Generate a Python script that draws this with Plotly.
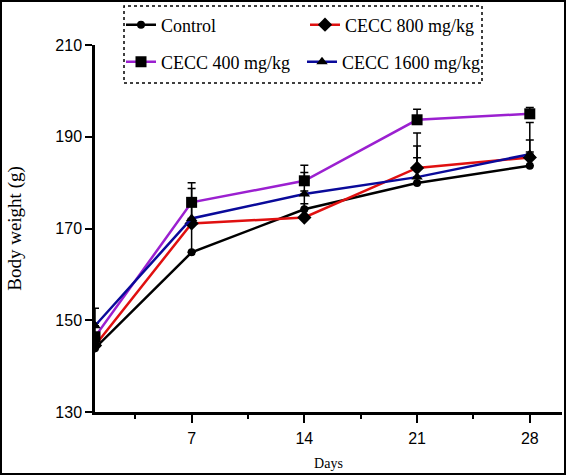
import plotly.graph_objects as go

days = [1, 7, 14, 21, 28]
series_names = ["Control", "CECC 800 mg/kg", "CECC 400 mg/kg", "CECC 1600 mg/kg"]
control = [143.9, 164.8, 174.2, 179.9, 183.7]
control_err = [2.0, 6.0, 4.0, 5.5, 3.0]
cecc800 = [144.5, 171.1, 172.4, 183.2, 185.5]
cecc800_err = [2.0, 5.0, 3.0, 7.6, 7.6]
cecc400 = [146.4, 175.7, 180.4, 193.7, 195.0]
cecc400_err = [3.0, 4.3, 3.4, 2.3, 1.4]
cecc1600 = [148.8, 172.2, 177.5, 181.2, 186.2]
cecc1600_err = [3.8, 6.5, 4.7, 6.8, 3.1]
x_ticks = [7, 14, 21, 28]
y_ticks = [130, 150, 170, 190, 210]

values = [control, cecc800, cecc400, cecc1600]
errors = [control_err, cecc800_err, cecc400_err, cecc1600_err]
colors = ["#000000", "#e01010", "#9b20d0", "#0a0a9a"]
symbols = ["circle", "diamond", "square", "triangle-up"]
msizes = [8, 11, 11, 10]

W, H = 566, 475
ml, mr, mt, mb = 95, 4, 45, 63
pw, ph = W - ml - mr, H - mt - mb

def px_x(p):
    return (p - ml) / pw

def px_y(p):
    return (H - mb - p) / ph

# legend anchor positions (pixels) for each entry: (left x, center y)
legend_pos = [(121, 25), (305, 25), (121, 62), (302, 62)]
legend_ids = ["legend", "legend2", "legend3", "legend4"]

fig = go.Figure()
for name, v, e, c, s, ms, lid in zip(series_names, values, errors, colors, symbols, msizes, legend_ids):
    fig.add_trace(go.Scatter(
        x=days, y=v, name=name, mode="lines+markers", legend=lid,
        line=dict(color=c, width=2.5),
        marker=dict(symbol=s, size=ms, color="black"),
        error_y=dict(type="data", array=e, arrayminus=[0] * len(e), symmetric=False,
                     color="black", thickness=1.5, width=4),
    ))

legend_style = dict(
    xanchor="left", yanchor="middle", xref="paper", yref="paper",
    font=dict(family="Liberation Serif", size=18, color="black"),
    bgcolor="rgba(0,0,0,0)", itemwidth=30, borderwidth=0,
)
legends = {}
for lid, (lx, ly) in zip(legend_ids, legend_pos):
    legends[lid] = dict(x=px_x(lx), y=px_y(ly), **legend_style)

fig.update_layout(
    width=W, height=H,
    margin=dict(l=ml, r=mr, t=mt, b=mb, autoexpand=False),
    plot_bgcolor="white", paper_bgcolor="white",
    showlegend=True,
    **legends,
    xaxis=dict(
        range=[1, 30], tickvals=x_ticks, ticktext=[str(t) for t in x_ticks],
        showline=True, linecolor="black", linewidth=2.5, showgrid=False, zeroline=False,
        ticks="outside", ticklen=8, tickwidth=2, tickcolor="black",
        minor=dict(tickvals=[3.5, 10.5, 17.5, 24.5], ticks="outside", ticklen=4, tickwidth=2, tickcolor="black"),
        tickfont=dict(family="Liberation Sans", size=16, color="black"),
        ticklabelstandoff=2,
        title=dict(text="Days", font=dict(family="Liberation Serif", size=14, color="black"), standoff=13),
    ),
    yaxis=dict(
        range=[130, 210], tickvals=y_ticks,
        showline=True, linecolor="black", linewidth=2.5, showgrid=False, zeroline=False,
        ticks="outside", ticklen=7, tickwidth=2, tickcolor="black",
        tickfont=dict(family="Liberation Sans", size=16, color="black"),
        title=dict(text="Body weight (g)", font=dict(family="Liberation Serif", size=19, color="black"), standoff=29),
    ),
    shapes=[
        dict(type="rect", xref="paper", yref="paper",
             x0=px_x(1), x1=px_x(W - 1), y0=px_y(H - 1), y1=px_y(1),
             line=dict(color="black", width=2)),
        dict(type="rect", xref="paper", yref="paper",
             x0=px_x(124), x1=px_x(482), y0=px_y(83), y1=px_y(6),
             line=dict(color="black", width=1.5, dash="dot")),
    ],
)

fig.write_html(
    "out.html",
    config={"displayModeBar": False},
    post_script="document.body.style.margin='0';document.body.style.overflow='hidden';",
)
